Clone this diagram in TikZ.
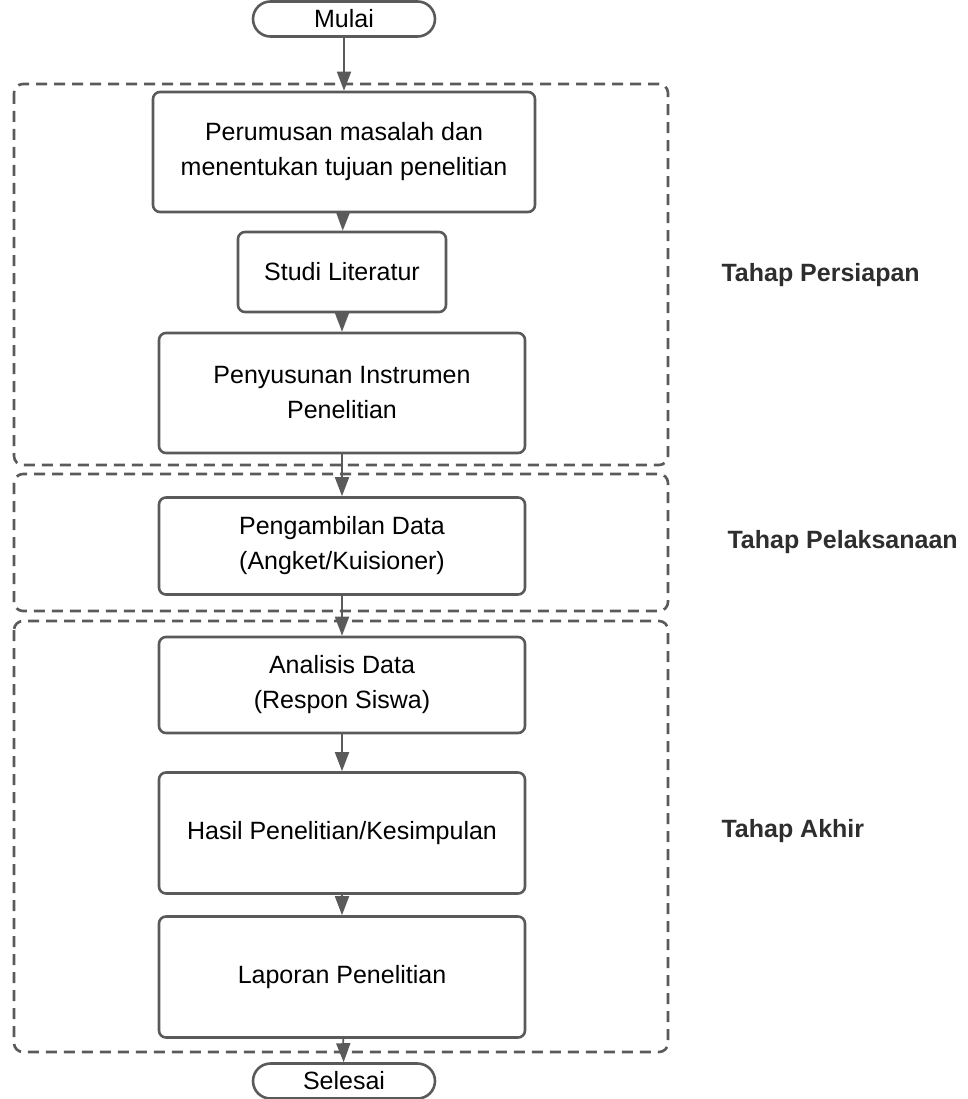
\documentclass[tikz,border=0pt]{standalone}
\usepackage{fontspec}
\setmainfont{Liberation Sans}
\usepackage{tikz}
\usetikzlibrary{arrows.meta,shapes.misc}

\definecolor{linegray}{HTML}{5A5A5A}
\definecolor{labelgray}{HTML}{2E2E2E}

\tikzset{
  stepbox/.style={draw=linegray, line width=2.6pt, rounded corners=7pt,
    align=center, text=black, inner sep=0pt, fill=white},
  terminal/.style={draw=linegray, line width=2.6pt, rounded rectangle,
    minimum width=182pt, minimum height=35pt, inner sep=0pt, fill=white},
  phase/.style={draw=linegray, line width=2.6pt, dash pattern=on 11pt off 7pt,
    rounded corners=9pt},
  phaselabel/.style={anchor=west, text=labelgray,
    font=\fontsize{25}{35}\selectfont\bfseries},
  flow/.style={draw=linegray, line width=1.8pt,
    -{Triangle[width=14pt,length=19pt]}}
}

\begin{document}
\begin{tikzpicture}[x=1pt,y=-1pt,font=\fontsize{25}{35}\selectfont]
   \useasboundingbox (0,0) rectangle (967,1099);
   % phase frames
   \draw[phase] (14,84) rectangle (668,465);
   \draw[phase] (14,474) rectangle (668,611);
   \draw[phase] (14,621) rectangle (668,1052);
   % steps
   \node[terminal] (start) at (344,19) {Mulai};
   \node[stepbox, minimum width=382pt, minimum height=120pt] (rumus) at (344,152)
      {Perumusan masalah dan\\menentukan tujuan penelitian};
   \node[stepbox, minimum width=208pt, minimum height=80pt] (studi) at (342,272) {Studi Literatur};
   \node[stepbox, minimum width=366pt, minimum height=120pt] (susun) at (342,393)
      {Penyusunan Instrumen\\Penelitian};
   \node[stepbox, minimum width=366pt, minimum height=97pt] (ambil) at (342,546)
      {Pengambilan Data\\(Angket/Kuisioner)};
   \node[stepbox, minimum width=366pt, minimum height=96pt] (analisis) at (342,685)
      {Analisis Data\\(Respon Siswa)};
   \node[stepbox, minimum width=366pt, minimum height=121pt] (hasil) at (342,833)
      {Hasil Penelitian/Kesimpulan};
   \node[stepbox, minimum width=366pt, minimum height=121pt] (lapor) at (342,977)
      {Laporan Penelitian};
   \node[terminal] (finish) at (344,1081) {Selesai};
   % phase names
   \node[phaselabel] (prep) at (718,275) {Tahap Persiapan};
   \node[phaselabel] (exec) at (724,542) {Tahap Pelaksanaan};
   \node[phaselabel] (akhir) at (718,831) {Tahap Akhir};
   % arrows
   \path[flow] (start) -- (rumus);
   \path[flow] (rumus) -- (studi);
   \path[flow] (studi) -- (susun);
   \path[flow] (susun) -- (ambil);
   \path[flow] (ambil) -- (analisis);
   \path[flow] (analisis) -- (hasil);
   \path[flow] (hasil) -- (lapor);
   \path[flow] (lapor) -- (finish);
\end{tikzpicture}
\end{document}
